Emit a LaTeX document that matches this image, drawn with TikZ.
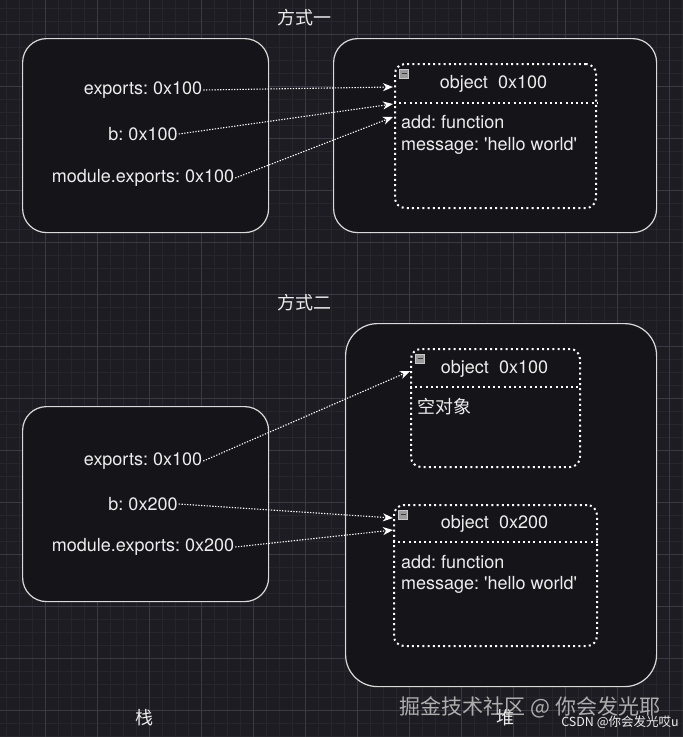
\documentclass[tikz,border=0pt]{standalone}
\usepackage{fontspec}
\setmainfont{TeX Gyre Heros}[Ligatures=TeXOff]
\newfontfamily\cjkfont{Noto Sans CJK SC}
\usepackage{tikz}
\usetikzlibrary{positioning, calc, arrows.meta}
\definecolor{bgdark}{HTML}{1D1C22}
\definecolor{gridminor}{HTML}{27262D}
\definecolor{gridmajor}{HTML}{3B3A42}
\definecolor{boxfill}{HTML}{151419}
\definecolor{boxline}{HTML}{DADADA}
\definecolor{txtwhite}{HTML}{EDEDED}
\definecolor{icongray}{HTML}{9A9A9A}
\definecolor{iconedge}{HTML}{C8C8C8}
\definecolor{icondash}{HTML}{3A3A3A}
\definecolor{markgray}{HTML}{BDBDBD}
\frenchspacing

% small collapse icon in the corner of an object box
\newcommand\minusicon[1]{%
  \draw[fill=icongray, draw=iconedge, line width=0.6pt] ($(#1.north west)+(5.5,6)$) rectangle ++(9,9);
  \draw[draw=icondash, line width=1.5pt] ($(#1.north west)+(7.5,10.5)$) -- ++(5,0);
}

\begin{document}
\begin{tikzpicture}[x=1pt, y=-1pt,
    every node/.style={text=txtwhite, font=\fontsize{18}{21}\selectfont},
    minorline/.style={draw=gridminor, line width=0.8pt},
    majorline/.style={draw=gridmajor, line width=1pt},
    area/.style={draw=boxline, fill=boxfill, line width=1.2pt, rounded corners=24pt, anchor=north west, inner sep=0pt},
    objbox/.style={draw=white, line width=2pt, dash pattern=on 2pt off 3.2pt, rounded corners=10pt, anchor=north west, inner sep=0pt},
    objsep/.style={draw=white, line width=2pt, dash pattern=on 2pt off 3.2pt},
    varname/.style={inner sep=1pt},
    field/.style={anchor=base west, inner sep=0pt},
    cjk/.style={font=\cjkfont\fontsize{18}{21}\selectfont},
    conn/.style={draw=white, line width=1.1pt, dash pattern=on 1.3pt off 1.5pt, -{Stealth[length=10pt, width=8pt, inset=3pt]}}]

\useasboundingbox (0,0) rectangle (683,737);
\fill[bgdark] (0,0) rectangle (683,737);

\foreach \k in {0,...,52}
\draw[minorline] ({6+13*\k},0) -- ({6+13*\k},737);
\foreach \k in {0,...,56}
\draw[minorline] (0,{8+13*\k}) -- (683,{8+13*\k});
\foreach \k in {-1,...,12}
\draw[majorline] ({45+52*\k},0) -- ({45+52*\k},737);
\foreach \k in {0,...,13}
\draw[majorline] (0,{34+52*\k}) -- (683,{34+52*\k});

% --- 方式一
\node[cjk] (title1) at (304,18) {方式一};
\node[area, minimum width=246, minimum height=194] (stack1) at (22,38) {};
\node[area, minimum width=323, minimum height=194] (heap1) at (333,38) {};

\node[objbox, minimum width=201, minimum height=144] (obj1) at (394,63) {};
\draw[objsep] ($(obj1.north west)+(0,40)$) -- ($(obj1.north east)+(0,40)$);
\minusicon{obj1}
\node (obj1head) at ($(obj1.north)+(-2,21)$) {object\ \ 0x100};
\node[field] (obj1add) at ($(obj1.north west)+(7,65.5)$) {add: function};
\node[field] (obj1msg) at ($(obj1.north west)+(7,87)$) {message: 'hello world'};

\node[varname] (exp1) at (143,90) {exports: 0x100};
\node[varname] (b1) at (143,134) {b: 0x100};
\node[varname] (mod1) at (143,178) {module.exports: 0x100};

\coordinate (in1a) at (393,87);
\coordinate (in1b) at (393,104);
\coordinate (in1c) at (393,117);
\draw[conn] (exp1.east) -- (in1a);
\draw[conn] (b1.east) -- (in1b);
\draw[conn] (mod1.east) -- (in1c);

% --- 方式二
\node[cjk] (title2) at (304,303) {方式二};
\node[area, minimum width=246, minimum height=195] (stack2) at (22,406) {};
\node[area, rounded corners=32pt, minimum width=311, minimum height=363] (heap2) at (345,323) {};

\node[objbox, minimum width=169, minimum height=118] (obj2) at (410,348) {};
\draw[objsep] ($(obj2.north west)+(0,39)$) -- ($(obj2.north east)+(0,39)$);
\minusicon{obj2}
\node (obj2head) at ($(obj2.north)+(-1,21)$) {object\ \ 0x100};
\node[cjk, anchor=west, inner sep=0pt] (obj2empty) at ($(obj2.north west)+(7,59)$) {空对象};

\node[objbox, minimum width=203, minimum height=141] (obj3) at (393,504) {};
\draw[objsep] ($(obj3.north west)+(0,38)$) -- ($(obj3.north east)+(0,38)$);
\minusicon{obj3}
\node (obj3head) at ($(obj3.north)+(-1,20)$) {object\ \ 0x200};
\node[field] (obj3add) at ($(obj3.north west)+(8,64.5)$) {add: function};
\node[field] (obj3msg) at ($(obj3.north west)+(8,85.5)$) {message: 'hello world'};

\node[varname] (exp2) at (143,461) {exports: 0x100};
\node[varname] (b2) at (143,504) {b: 0x200};
\node[varname] (mod2) at (143,547) {module.exports: 0x200};

\coordinate (in2a) at (410,371);
\coordinate (in3a) at (393,518);
\coordinate (in3b) at (393,530);
\draw[conn] (exp2.east) -- (in2a);
\draw[conn] (b2.east) -- (in3a);
\draw[conn] (mod2.east) -- (in3b);

% --- bottom
\node[cjk] (stacklbl) at (144,718) {栈};
\node[cjk] (heaplbl) at (505,718) {堆};
\node[text=markgray, font=\cjkfont\fontsize{21}{24}\selectfont, opacity=0.9] (wmark) at (530,707) {掘金技术社区 @ 你会发光耶};
\node[font=\cjkfont\fontsize{12.5}{14}\selectfont, inner sep=0pt] (csdn) at (620,722) {CSDN @你会发光哎u};
\end{tikzpicture}
\end{document}
